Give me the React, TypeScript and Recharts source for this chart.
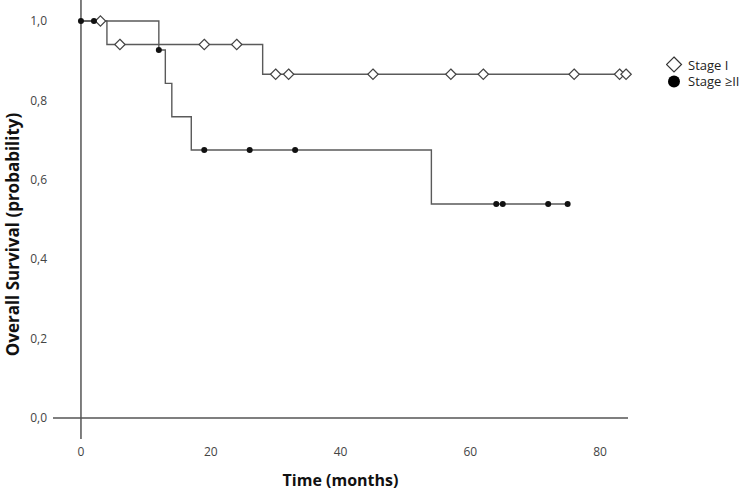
import React from "react";
import {
  ComposedChart,
  Line,
  Scatter,
  XAxis,
  YAxis,
  ReferenceLine,
  Legend,
} from "recharts";

// Kaplan-Meier step points (time in months, survival probability)
const stage1Times = [0, 4, 28, 84];
const stage1Surv = [1.0, 0.941, 0.866, 0.866];
const stage1CensorTimes = [3, 6, 19, 24, 30, 32, 45, 57, 62, 76, 83, 84];
const stage1CensorSurv = [1.0, 0.941, 0.941, 0.941, 0.866, 0.866, 0.866, 0.866, 0.866, 0.866, 0.866, 0.866];

const stage2Times = [0, 12, 13, 14, 17, 54, 75];
const stage2Surv = [1.0, 0.927, 0.843, 0.759, 0.675, 0.539, 0.539];
const stage2CensorTimes = [0, 2, 12, 19, 26, 33, 64, 65, 72, 75];
const stage2CensorSurv = [1.0, 1.0, 0.927, 0.675, 0.675, 0.675, 0.539, 0.539, 0.539, 0.539];

const xTicks = [0, 20, 40, 60, 80];
const yTicks = [0, 0.2, 0.4, 0.6, 0.8, 1.0];
const seriesNames = ["Stage I", "Stage \u2265II"];

const zip = (ts: number[], ss: number[]) => ts.map((t, i) => ({ t, s: ss[i] }));
const stage1Line = zip(stage1Times, stage1Surv);
const stage2Line = zip(stage2Times, stage2Surv);
const stage1Cens = zip(stage1CensorTimes, stage1CensorSurv);
const stage2Cens = zip(stage2CensorTimes, stage2CensorSurv);

const FONT = "'Open Sans', 'DejaVu Sans', sans-serif";
const LINE = "#5a5a5a";

const Diamond = (props: any) => {
  const { cx, cy } = props;
  const r = 5.2;
  return (
    <polygon
      points={`${cx},${cy - r} ${cx + r},${cy} ${cx},${cy + r} ${cx - r},${cy}`}
      fill="#fff"
      stroke="#444"
      strokeWidth={1.2}
    />
  );
};

const Dot = (props: any) => {
  const { cx, cy } = props;
  return <circle cx={cx} cy={cy} r={3} fill="#111" />;
};

const LegendContent = () => (
  <div style={{ fontFamily: FONT, fontSize: 13, color: "#222", lineHeight: "16px" }}>
    <div style={{ display: "flex", alignItems: "center" }}>
      <svg width={18} height={17}>
        <polygon points="8,1 15.5,8.5 8,16 0.5,8.5" fill="#fff" stroke="#333" strokeWidth={1.2} />
      </svg>
      <span style={{ marginLeft: 4 }}>{seriesNames[0]}</span>
    </div>
    <div style={{ display: "flex", alignItems: "center" }}>
      <svg width={18} height={15}>
        <circle cx={8} cy={7.5} r={6} fill="#000" />
      </svg>
      <span style={{ marginLeft: 4 }}>{seriesNames[1]}</span>
    </div>
  </div>
);

const YLabel = (props: any) => {
  const vb = props.viewBox || { x: 0, y: 0, width: 53, height: 439 };
  const x = vb.x + 12;
  const y = vb.y + vb.height / 2 + 15;
  return (
    <text
      x={x}
      y={y}
      transform={`rotate(-90, ${x}, ${y})`}
      textAnchor="middle"
      dominantBaseline="central"
      style={{ fontSize: 17, fontWeight: 700, fill: "#111", fontFamily: FONT }}
    >
      Overall Survival (probability)
    </text>
  );
};

export default function App() {
  return (
    <div style={{ position: "absolute", left: 0, top: 0, width: 749, height: 490, background: "#fff" }}>
      <ComposedChart
        width={749}
        height={490}
        margin={{ top: 0, right: 121, bottom: 0, left: 0 }}
      >
        <XAxis
          dataKey="t"
          type="number"
          domain={[-4.31, 84.3]}
          ticks={xTicks}
          axisLine={false}
          tickLine={false}
          height={51}
          tick={{ fontSize: 12, fill: "#444", fontFamily: FONT }}
          label={{
            value: "Time (months)",
            position: "insideBottom",
            offset: 4,
            style: { fontSize: 16, fontWeight: 700, fill: "#111", fontFamily: FONT },
          }}
        />
        <YAxis
          dataKey="s"
          type="number"
          domain={[-0.053, 1.053]}
          ticks={yTicks}
          axisLine={false}
          tickLine={false}
          width={53}
          tickMargin={0}
          tickFormatter={(v: number) => v.toFixed(1).replace(".", ",")}
          tick={{ fontSize: 12, fill: "#444", fontFamily: FONT }}
          label={{ content: YLabel }}
        />
        <ReferenceLine y={0} stroke="#555" strokeWidth={1.5} />
        <ReferenceLine x={0} stroke="#555" strokeWidth={1.5} />
        <Line
          data={stage1Line}
          dataKey="s"
          type="stepAfter"
          stroke={LINE}
          strokeWidth={1.4}
          dot={false}
          activeDot={false}
          isAnimationActive={false}
          legendType="none"
        />
        <Line
          data={stage2Line}
          dataKey="s"
          type="stepAfter"
          stroke={LINE}
          strokeWidth={1.4}
          dot={false}
          activeDot={false}
          isAnimationActive={false}
          legendType="none"
        />
        <Scatter data={stage1Cens} dataKey="s" shape={Diamond} isAnimationActive={false} name={seriesNames[0]} />
        <Scatter data={stage2Cens} dataKey="s" shape={Dot} isAnimationActive={false} name={seriesNames[1]} />
        <Legend
          content={LegendContent}
          layout="horizontal"
          verticalAlign="middle"
          align="center"
          wrapperStyle={{ position: "absolute", left: 666, top: 56, width: 90 }}
        />
      </ComposedChart>
    </div>
  );
}
